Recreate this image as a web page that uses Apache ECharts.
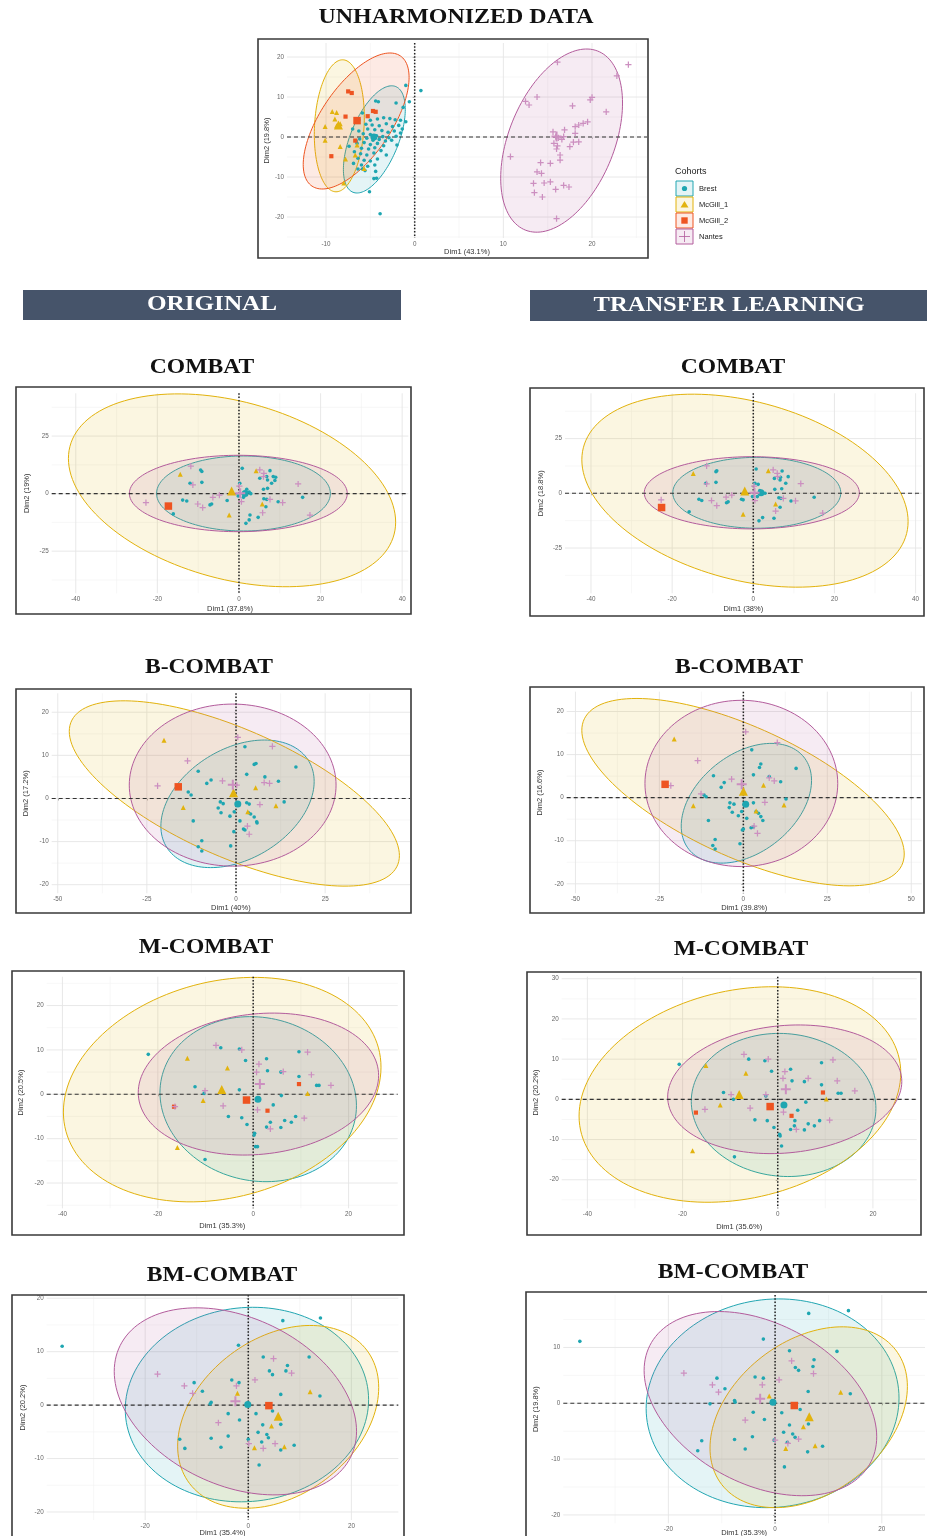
<!DOCTYPE html>
<html><head><meta charset="utf-8">
<script src="https://cdn.jsdelivr.net/npm/echarts@6/dist/echarts.min.js"></script>
<style>html,body{margin:0;padding:0;background:#fff}#c{width:927px;height:1536px}</style>
</head><body><div id="c"></div>
<script>
// ---------------- DATA ----------------
const COHORTS = ['Brest', 'McGill_1', 'McGill_2', 'Nantes'];
const PANEL_TITLES = ['COMBAT', 'B-COMBAT', 'M-COMBAT', 'BM-COMBAT'];
const AXIS_NAMES_X = ['Dim1 (43.1%)', 'Dim1 (37.8%)', 'Dim1 (38%)', 'Dim1 (40%)', 'Dim1 (39.8%)', 'Dim1 (35.3%)', 'Dim1 (35.6%)', 'Dim1 (35.4%)', 'Dim1 (35.3%)'];
const AXIS_NAMES_Y = ['Dim2 (19.8%)', 'Dim2 (19%)', 'Dim2 (18.8%)', 'Dim2 (17.2%)', 'Dim2 (16.6%)', 'Dim2 (20.5%)', 'Dim2 (20.2%)', 'Dim2 (20.2%)', 'Dim2 (19.8%)'];

// Panel 0: unharmonized
const p0Brest = [[-1.0,12.9],[0.7,11.6],[-4.4,9.0],[-4.1,8.8],[-2.1,8.5],[-0.6,8.8],[-1.3,7.4],[-5.9,6.0],[-6.3,4.3],[-5.0,4.2],[-4.2,4.5],[-3.5,4.8],[-2.8,4.6],[-2.2,4.3],[-1.6,4.2],[-1.0,3.8],[-5.5,3.2],[-4.8,3.0],[-4.0,2.8],[-3.2,3.3],[-2.5,2.6],[-1.8,2.9],[-5.3,2.0],[-4.5,1.8],[-3.7,1.6],[-3.0,1.2],[-2.3,1.5],[-1.6,1.0],[-5.8,0.8],[-5.0,0.6],[-4.3,0.3],[-3.6,0.1],[-2.9,-0.2],[-2.1,0.2],[-6.2,-0.5],[-5.4,-0.3],[-4.7,-0.8],[-4.0,-0.6],[-3.3,-1.0],[-2.6,-0.8],[-6.5,-1.6],[-5.7,-1.4],[-5.0,-1.9],[-4.2,-1.6],[-3.5,-2.2],[-6.0,-2.8],[-5.2,-3.0],[-4.5,-2.7],[-3.8,-3.4],[-6.8,-3.7],[-6.1,-4.2],[-5.4,-4.5],[-4.6,-4.0],[-6.4,-5.3],[-5.7,-5.8],[-5.0,-6.0],[-4.2,-5.5],[-6.9,-6.6],[-6.0,-7.0],[-5.3,-7.3],[-4.5,-7.0],[-6.4,-8.0],[-5.6,-8.4],[-4.4,-8.6],[-4.6,-10.4],[-4.3,-10.3],[-5.1,-13.7],[-3.9,-19.2],[-6.6,-1.0],[-7.0,2.0],[-5.9,-8.0],[-3.2,-4.5],[-2.0,-2.0],[-1.4,2.0],[-6.3,1.5],[-7.4,-2.3]];
const p0McGill1 = [[-9.3,6.4],[-8.8,6.1],[-10.1,2.6],[-8.8,2.8],[-8.4,3.3],[-10.1,-0.8],[-8.4,-2.4],[-6.5,-2.0],[-6.7,-4.5],[-7.8,-5.5],[-5.7,-7.9],[-8.0,-11.5],[-9.0,4.5]];
const p0McGill2 = [[-7.5,11.4],[-7.1,11.0],[-4.7,6.5],[-4.4,6.3],[-5.3,5.2],[-7.8,5.1],[-6.7,-0.9],[-9.4,-4.8]];
const p0Nantes = [[24.1,18.1],[16.1,18.7],[22.8,15.3],[12.5,8.9],[12.9,8.0],[13.8,10.0],[20.0,9.9],[19.8,9.3],[17.8,7.8],[21.6,6.3],[19.5,3.8],[19.0,3.4],[18.5,3.0],[18.1,2.6],[16.9,1.8],[15.6,1.3],[18.1,0.9],[15.9,0.1],[16.2,-0.2],[16.6,-0.6],[16.8,0.1],[17.9,-1.3],[18.5,-1.2],[15.7,-1.6],[16.1,-2.2],[17.5,-2.4],[16.0,-3.0],[16.4,-4.5],[16.4,-5.8],[10.8,-4.9],[14.2,-6.4],[15.3,-6.6],[13.8,-8.7],[14.3,-9.1],[13.4,-11.6],[14.6,-11.5],[15.3,-11.2],[16.8,-12.1],[17.4,-12.5],[15.9,-13.1],[13.5,-13.9],[14.4,-15.0],[16.0,-20.4]];
const p0Centroids = [[-4.6,0.0],[-8.6,3.0],[-6.5,4.1],[16.0,0.1]];
// ellipses: [centerX, centerY, halfWidthX, halfHeightY, correlation, cohortIndex]
const p0Ellipses = [[-4.55,-0.6,3.49,13.4,0.56,0],[-8.5,2.8,2.82,16.5,0.13,1],[-6.6,4.0,5.97,17.0,0.64,2],[16.57,-0.9,6.87,22.9,0.41,3]];
const p0XTicks = [-10,0,10,20], p0YTicks = [-20,-10,0,10,20];
const p0XMinor = [-5,5,15,25], p0YMinor = [-25,-15,-5,5,15];

// Panel 1: Original COMBAT
const p1Brest = [[-9.1,9.6],[-9.4,10.3],[-12.0,4.5],[-9.1,4.9],[-13.8,-2.8],[-12.8,-3.2],[-6.7,-4.5],[-7.1,-4.9],[-2.9,-3.0],[-16.1,-8.8],[0.8,11.0],[0.2,4.5],[1.9,1.9],[2.5,0.7],[2.9,0.0],[5.1,6.7],[6.8,7.4],[7.6,10.0],[8.4,7.4],[9.0,7.1],[7.0,5.9],[6.0,1.9],[7.0,2.3],[8.0,4.5],[6.1,-2.2],[6.8,-2.5],[6.6,-5.7],[9.6,-3.5],[15.6,-1.6],[2.7,-9.3],[1.7,-12.9],[2.5,-11.4],[4.7,-10.3],[1.1,-1.6],[-0.2,-1.0],[8.8,5.7]];
const p1McGill1 = [[-14.4,8.4],[4.2,10.0],[-2.4,-9.3],[5.7,-4.5]];
const p1McGill2 = [];
const p1Nantes = [[-22.8,-3.9],[-11.8,12.0],[-11.3,3.8],[-10.1,-4.5],[-8.9,-6.1],[-6.4,-1.6],[-4.8,-0.6],[5.1,10.3],[6.1,8.8],[6.0,7.4],[5.8,-8.3],[7.6,-2.5],[10.7,-3.9],[14.5,4.2],[17.4,-9.3],[0.6,-3.5],[0.1,3.3]];
const p1Centroids = [[1.5,0.1],[-1.8,1.2],[-17.3,-5.4],[0.3,0.2]];
const p1Ellipses = [[1.1,0.07,21.3,16.3,0,0],[-1.7,1.45,40.1,41.9,-0.33,1],[-0.16,0.07,26.7,16.6,0,3]];
const p1XTicks = [-40,-20,0,20,40], p1YTicks = [-25,0,25];
const p1XMinor = [-30,-10,10,30], p1YMinor = [-37.5,-12.5,12.5,37.5];

// Panel 2: Transfer learning COMBAT
const p2Brest = [[-9.2,9.9],[-9.0,10.3],[-11.7,4.6],[-9.2,5.0],[-13.4,-2.7],[-12.7,-3.3],[-6.6,-4.3],[-6.2,-3.9],[-2.9,-2.7],[-15.8,-8.4],[0.7,11.1],[0.4,4.6],[1.6,1.2],[2.9,0.0],[5.2,6.8],[6.7,7.3],[7.1,10.2],[8.6,7.6],[6.6,6.1],[5.3,1.8],[7.0,2.1],[6.3,-2.0],[6.8,-2.3],[6.6,-6.4],[9.3,-3.5],[15.0,-1.8],[2.3,-11.1],[1.4,-12.6],[5.1,-11.4],[1.0,-1.5],[-0.2,-1.5],[-2.5,-3.0],[8.0,4.6],[1.2,4.1]];
const p2McGill1 = [[-14.8,9.1],[3.7,10.3],[-2.5,-9.6],[5.5,-4.9]];
const p2McGill2 = [];
const p2Nantes = [[-22.7,-3.0],[-11.5,12.5],[-11.5,4.3],[-10.3,-3.3],[-9.0,-5.6],[-6.7,-1.8],[-5.3,-0.8],[4.9,10.7],[5.9,9.1],[6.0,7.6],[5.5,-8.1],[7.4,-2.3],[10.4,-3.5],[11.7,4.4],[17.1,-9.1],[0.4,-3.3],[0.2,3.3]];
const p2Centroids = [[1.9,0.3],[-2.1,1.1],[-22.6,-6.5],[0.3,0.2]];
const p2Ellipses = [[0.86,0.23,20.7,16.2,0,0],[-2.05,1.2,40.2,44.1,-0.32,1],[-0.37,0.23,26.5,16.5,0,3]];
const p2XTicks = [-40,-20,0,20,40], p2YTicks = [-25,0,25];
const p2XMinor = [-30,-10,10,30], p2YMinor = [-37.5,-12.5,12.5,37.5];

// Panel 3: Original B-COMBAT
const p3Brest = [[-10.6,6.3],[-7.0,4.3],[-8.2,3.5],[-13.4,1.5],[-12.6,0.8],[-4.4,-0.8],[-3.6,-1.2],[-5.0,-2.2],[-4.2,-3.3],[-12.0,-5.2],[2.5,12.0],[5.1,7.9],[5.6,8.1],[3.0,5.6],[8.1,5.0],[11.9,4.0],[16.8,7.3],[13.5,-0.8],[3.0,-1.0],[3.7,-1.3],[3.5,-3.3],[4.1,-3.6],[5.1,-4.3],[5.8,-5.4],[5.9,-5.7],[1.1,-5.2],[-1.7,-4.1],[2.1,-7.1],[2.5,-7.3],[-0.6,-7.7],[-9.6,-9.8],[-10.6,-11.2],[-9.6,-12.2],[-1.5,-11.0],[-0.5,-3.1]];
const p3McGill1 = [[-20.2,13.5],[5.5,2.5],[-14.8,-2.1],[11.2,-1.7],[3.3,-3.1]];
const p3McGill2 = [];
const p3Nantes = [[-22.0,2.9],[-13.6,8.7],[-3.8,4.1],[0.2,3.1],[0.5,14.2],[10.2,12.1],[7.9,3.7],[9.4,3.5],[6.7,-1.4],[3.2,-6.4],[3.7,-8.3]];
const p3Centroids = [[0.5,-1.3],[-0.7,1.3],[-16.2,2.7],[-0.9,3.2]];
const p3Ellipses = [[0.42,-1.24,21.5,14.8,0.35,0],[-0.47,1.16,46.3,21.5,-0.67,1],[-0.94,3.1,29.0,18.8,0,3]];
const p3XTicks = [-50,-25,0,25], p3YTicks = [-20,-10,0,10,20];
const p3XMinor = [-37.5,-12.5,12.5,37.5], p3YMinor = [-15,-5,5,15];

// Panel 4: Transfer learning B-COMBAT
const p4Brest = [[-8.9,5.1],[-5.7,3.5],[-6.6,2.4],[-11.7,0.6],[-11.1,0.2],[-4.0,-1.2],[-2.8,-1.5],[-4.2,-2.3],[-3.3,-3.4],[-10.4,-5.3],[2.5,11.1],[4.8,7.0],[5.2,7.8],[3.0,5.3],[7.7,4.9],[11.1,3.7],[15.7,6.8],[12.7,-0.3],[3.0,-1.2],[3.8,-3.2],[4.5,-3.6],[5.2,-4.4],[5.8,-5.3],[1.0,-4.8],[-1.5,-4.2],[2.3,-7.0],[3.0,-6.8],[-0.3,-7.5],[-8.4,-9.7],[-9.1,-11.1],[-8.4,-11.9],[-1.0,-10.7],[-0.5,-3.2],[0.0,-7.3]];
const p4McGill1 = [[-20.6,13.6],[6.0,2.9],[-14.9,-1.9],[12.1,-1.7],[3.8,-3.1]];
const p4McGill2 = [];
const p4Nantes = [[-21.6,2.8],[-13.6,8.6],[-3.5,4.3],[0.7,15.3],[10.1,12.8],[7.7,4.6],[9.2,3.9],[6.4,-1.1],[3.2,-6.6],[4.2,-8.3],[-12.6,0.9]];
const p4Centroids = [[0.7,-1.5],[0.0,1.5],[-23.3,3.1],[-0.5,3.1]];
const p4Ellipses = [[0.9,-1.3,19.4,13.9,0.38,0],[-0.1,1.28,48.0,21.75,-0.66,1],[-0.6,3.3,28.7,19.3,0,3]];
const p4XTicks = [-50,-25,0,25,50], p4YTicks = [-20,-10,0,10,20];
const p4XMinor = [-37.5,-12.5,12.5,37.5], p4YMinor = [-15,-5,5,15];

// Panel 5: Original M-COMBAT
const p5Brest = [[-22.0,9.0],[-6.8,10.5],[-2.9,10.2],[-1.6,7.6],[2.8,8.0],[3.0,5.3],[5.8,5.0],[9.6,9.6],[9.6,4.0],[13.3,2.0],[13.8,2.0],[-12.2,1.7],[-10.3,0.2],[-2.9,1.0],[5.9,-0.3],[4.2,-2.4],[-5.2,-5.0],[-2.4,-5.3],[-1.3,-6.8],[3.6,-6.3],[2.8,-7.4],[5.8,-7.5],[6.6,-5.9],[8.0,-6.3],[8.9,-5.0],[0.3,-8.8],[0.2,-9.2],[0.5,-11.8],[0.9,-11.8],[-10.1,-14.7]];
const p5McGill1 = [[-13.8,8.1],[-5.4,5.9],[-10.5,-1.4],[-15.9,-12.0],[11.4,0.2]];
const p5McGill2 = [[-16.6,-2.8],[9.6,2.3],[3.0,-3.7]];
const p5Nantes = [[-7.8,11.0],[-2.4,10.0],[-10.1,0.8],[-6.3,-2.6],[-16.4,-2.8],[1.2,6.8],[0.7,5.0],[6.3,5.1],[11.4,9.5],[12.2,4.4],[16.3,2.0],[0.9,-3.5],[3.6,-7.8],[10.7,-5.4]];
const p5Centroids = [[1.0,-1.1],[-6.6,1.1],[-1.4,-1.3],[1.4,2.3]];
const p5Ellipses = [[1.05,-1.1,20.6,18.6,-0.08,0],[-6.5,1.05,33.3,25.3,0.2,1],[1.1,2.3,25.2,16.0,0.12,3]];
const p5XTicks = [-40,-20,0,20], p5YTicks = [-20,-10,0,10,20];
const p5XMinor = [-30,-10,10], p5YMinor = [-25,-15,-5,5,15,25];

// Panel 6: Transfer learning M-COMBAT
const p6Brest = [[-20.7,8.7],[-6.1,10.0],[-2.7,9.6],[-1.3,7.0],[2.7,7.5],[3.0,4.6],[5.6,4.4],[9.2,9.1],[9.2,3.6],[12.7,1.5],[13.3,1.5],[-11.4,1.7],[-9.3,0.0],[-2.5,0.8],[5.9,-0.7],[4.2,-2.7],[-4.8,-5.1],[-2.2,-5.3],[-0.8,-7.0],[2.7,-7.5],[3.5,-6.6],[5.6,-7.6],[6.4,-6.1],[7.7,-6.6],[8.8,-5.3],[0.4,-8.7],[0.5,-9.1],[0.8,-11.6],[-9.1,-14.3],[3.6,-5.3]];
const p6McGill1 = [[-15.1,8.4],[-6.7,6.5],[-12.1,-1.4],[-17.9,-12.8],[10.2,0.1]];
const p6McGill2 = [[-17.2,-3.3],[9.5,1.7],[2.9,-4.1]];
const p6Nantes = [[-7.1,11.2],[-2.0,10.0],[-9.8,1.2],[-5.8,-2.2],[-15.3,-2.5],[1.5,6.9],[1.1,5.2],[6.4,5.2],[11.6,9.8],[12.5,4.6],[16.2,2.1],[1.2,-3.2],[3.9,-7.5],[10.9,-5.2],[-2.5,1.2]];
const p6Centroids = [[1.3,-1.4],[-8.1,1.2],[-1.6,-1.8],[1.7,2.5]];
const p6Ellipses = [[1.23,-1.4,19.4,17.8,-0.05,0],[-7.95,1.2,33.8,26.8,0.2,1],[1.47,2.5,24.6,16.0,0.12,3]];
const p6XTicks = [-40,-20,0,20], p6YTicks = [-20,-10,0,10,20,30];
const p6XMinor = [-30,-10,10], p6YMinor = [-25,-15,-5,5,15,25];

// Panel 7: Original BM-COMBAT
const p7Brest = [[-36.1,11.0],[6.7,15.8],[14.0,16.3],[-1.9,11.2],[2.9,9.0],[11.8,9.0],[7.6,7.4],[4.1,6.4],[4.7,5.7],[7.3,6.4],[6.3,2.0],[13.9,1.7],[-10.5,4.2],[-8.9,2.6],[-3.2,4.7],[-1.8,4.2],[-7.2,0.5],[-7.4,0.2],[-3.9,-1.6],[-1.7,-2.8],[1.5,-1.6],[4.7,-1.1],[2.8,-3.7],[6.3,-3.6],[1.9,-5.1],[3.6,-5.5],[3.9,-6.1],[2.6,-6.9],[6.3,-8.4],[8.9,-7.5],[-3.9,-5.8],[-7.2,-6.2],[-5.3,-7.9],[-13.3,-6.4],[-12.3,-8.1],[2.1,-11.2],[0.0,-6.4]];
const p7McGill1 = [[-2.1,2.2],[12.0,2.5],[4.5,-3.9],[1.2,-8.0],[7.0,-7.8]];
const p7McGill2 = [];
const p7Nantes = [[-17.6,5.8],[-12.4,3.6],[-10.8,2.2],[-2.3,3.6],[1.3,4.7],[4.9,8.7],[8.4,6.0],[-5.8,-3.3],[0.1,-7.2],[2.9,-8.1],[5.2,-7.2]];
const p7Centroids = [[-0.1,0.1],[5.8,-2.1],[4.0,-0.1],[-2.5,0.7]];
const p7Ellipses = [[-0.26,0.1,23.6,18.2,0.05,0],[5.8,-2.2,19.5,17.1,0.32,1],[-2.5,0.7,23.5,17.5,-0.32,3]];
const p7XTicks = [-20,0,20], p7YTicks = [-20,-10,0,10,20];
const p7XMinor = [-30,-10,10], p7YMinor = [-15,-5,5,15];

// Panel 8: Transfer learning BM-COMBAT
const p8Brest = [[-36.6,11.1],[6.3,16.1],[13.75,16.6],[-2.2,11.5],[2.7,9.4],[11.6,9.3],[7.3,7.8],[3.8,6.4],[4.4,5.9],[7.1,6.6],[6.2,2.1],[14.1,1.7],[-10.9,4.5],[-9.4,2.6],[-3.75,4.7],[-2.2,4.5],[-7.6,0.5],[-7.5,0.2],[-12.2,-0.1],[-4.1,-1.6],[-2.0,-2.9],[1.25,-1.7],[4.7,-1.1],[2.7,-3.9],[6.25,-3.7],[1.6,-5.2],[3.3,-5.5],[3.75,-6.1],[2.3,-7.0],[6.1,-8.7],[8.9,-7.7],[-4.25,-6.0],[-7.6,-6.5],[-5.6,-8.2],[-13.75,-6.7],[-14.5,-8.5],[1.75,-11.4],[-0.2,-6.6]];
const p8McGill1 = [[-1.1,1.3],[12.3,2.0],[5.3,-4.2],[2.0,-8.1],[7.5,-7.6]];
const p8McGill2 = [];
const p8Nantes = [[-17.1,5.4],[-11.75,3.3],[-10.6,2.0],[-2.4,3.3],[0.75,4.2],[3.1,7.6],[7.2,5.3],[-5.6,-3.0],[0.0,-6.6],[2.4,-7.2],[4.4,-6.4]];
const p8Centroids = [[-0.4,0.2],[6.4,-2.4],[3.6,-0.4],[-2.8,0.8]];
const p8Ellipses = [[-0.47,0,23.7,18.7,0.05,0],[6.3,-2.5,18.5,16.2,0.34,1],[-2.75,-0.06,21.8,16.5,-0.36,3]];
const p8XTicks = [-20,0,20], p8YTicks = [-20,-10,0,10];
const p8XMinor = [-30,-10,10], p8YMinor = [-15,-5,5,15];

// ---------------- LAYOUT / STYLE ----------------
const POINT_COLORS = ['#1EA6B1', '#E2B30E', '#EE5421', '#CC8FC0'];
const LINE_COLORS = ['#22A6B2', '#E2B20C', '#EE5420', '#B35C9C'];
const SYMBOLS = ['circle', 'triangle', 'rect', 'path://M4,0H6V4H10V6H6V10H4V6H0V4H4Z'];
const PT_SIZE = [3.6, 5, 4.2, 6.2];
const CENT_SIZE = [7, 9, 7.5, 10];

const LAYOUT = [
  {frame:[258,39,390,219], grid:[287,43,360,195], xr:[-14.4,26.2], yr:[-25.25,23.5], xGap:10, yGap:16},
  {frame:[16,387,395,227], grid:[51.7,393.3,356.6,200], xr:[-45.9,41.5], yr:[-43.3,43.6], xGap:11.7, yGap:20.4},
  {frame:[530,388,394,228], grid:[565,393.3,356.7,200], xr:[-46.4,41.5], yr:[-45.7,45.7], xGap:12, yGap:20},
  {frame:[16,689,395,224], grid:[51.7,693.3,358.3,200], xr:[-51.7,48.8], yr:[-22.0,24.4], xGap:10.4, yGap:21.7},
  {frame:[530,687,394,226], grid:[566.7,691.7,355,201.6], xr:[-52.6,53.1], yr:[-22.2,24.6], xGap:10.4, yGap:22.7},
  {frame:[12,971,392,264], grid:[46.7,976.7,351,231.6], xr:[-43.3,30.3], yr:[-25.7,26.5], xGap:13.7, yGap:21.7},
  {frame:[527,972,394,263], grid:[561.7,976.7,355,231.6], xr:[-45.4,29.2], yr:[-27.1,30.5], xGap:14.4, yGap:21.7},
  {frame:[12,1295,392,260], grid:[46.7,1295,351.6,225], xr:[-39.1,29.1], yr:[-21.5,20.6], xGap:9.3, yGap:19.4},
  {frame:[526,1292,420,260], grid:[563.3,1295,361.7,228.3], xr:[-39.7,28.1], yr:[-21.5,19.4], xGap:6, yGap:23.3}
];

const PANELS = [
  {pts:[p0Brest,p0McGill1,p0McGill2,p0Nantes], cent:p0Centroids, ell:p0Ellipses, xt:p0XTicks, yt:p0YTicks, xm:p0XMinor, ym:p0YMinor},
  {pts:[p1Brest,p1McGill1,p1McGill2,p1Nantes], cent:p1Centroids, ell:p1Ellipses, xt:p1XTicks, yt:p1YTicks, xm:p1XMinor, ym:p1YMinor},
  {pts:[p2Brest,p2McGill1,p2McGill2,p2Nantes], cent:p2Centroids, ell:p2Ellipses, xt:p2XTicks, yt:p2YTicks, xm:p2XMinor, ym:p2YMinor},
  {pts:[p3Brest,p3McGill1,p3McGill2,p3Nantes], cent:p3Centroids, ell:p3Ellipses, xt:p3XTicks, yt:p3YTicks, xm:p3XMinor, ym:p3YMinor},
  {pts:[p4Brest,p4McGill1,p4McGill2,p4Nantes], cent:p4Centroids, ell:p4Ellipses, xt:p4XTicks, yt:p4YTicks, xm:p4XMinor, ym:p4YMinor},
  {pts:[p5Brest,p5McGill1,p5McGill2,p5Nantes], cent:p5Centroids, ell:p5Ellipses, xt:p5XTicks, yt:p5YTicks, xm:p5XMinor, ym:p5YMinor},
  {pts:[p6Brest,p6McGill1,p6McGill2,p6Nantes], cent:p6Centroids, ell:p6Ellipses, xt:p6XTicks, yt:p6YTicks, xm:p6XMinor, ym:p6YMinor},
  {pts:[p7Brest,p7McGill1,p7McGill2,p7Nantes], cent:p7Centroids, ell:p7Ellipses, xt:p7XTicks, yt:p7YTicks, xm:p7XMinor, ym:p7YMinor},
  {pts:[p8Brest,p8McGill1,p8McGill2,p8Nantes], cent:p8Centroids, ell:p8Ellipses, xt:p8XTicks, yt:p8YTicks, xm:p8XMinor, ym:p8YMinor}
];

function rgba(hex, a) {
  const n = parseInt(hex.slice(1), 16);
  return 'rgba(' + ((n >> 16) & 255) + ',' + ((n >> 8) & 255) + ',' + (n & 255) + ',' + a + ')';
}

function gridItem(params, api) {
  const cs = params.coordSys;
  const v = api.value(0), dir = api.value(1), major = api.value(2);
  let shape;
  if (dir === 0) { const p = api.coord([v, 0]); shape = {x1:p[0], y1:cs.y, x2:p[0], y2:cs.y + cs.height}; }
  else { const p = api.coord([0, v]); shape = {x1:cs.x, y1:p[1], x2:cs.x + cs.width, y2:p[1]}; }
  return {type:'line', shape:shape, style:{stroke: major ? '#e5e5e5' : '#f1f1f1', lineWidth: major ? 0.9 : 0.6}};
}

function ellipseItem(params, api) {
  const cx = api.value(0), cy = api.value(1), hx = api.value(2), hy = api.value(3), r = api.value(4), k = api.value(5);
  const s = Math.sqrt(1 - r * r);
  const pts = [];
  const N = 140;
  for (let i = 0; i < N; i++) {
    const t = i / N * Math.PI * 2;
    const c = Math.cos(t), sn = Math.sin(t);
    pts.push(api.coord([cx + hx * c, cy + hy * (r * c + s * sn)]));
  }
  return {type:'polygon', shape:{points:pts}, style:{fill: rgba(LINE_COLORS[k], 0.12), stroke: LINE_COLORS[k], lineWidth: 1}};
}

function originItem(params, api) {
  const cs = params.coordSys;
  const o = api.coord([0, 0]);
  return {type:'group', children:[
    {type:'line', shape:{x1:cs.x, y1:o[1], x2:cs.x + cs.width, y2:o[1]}, style:{stroke:'#333', lineWidth:1.1, lineDash:[4,3]}},
    {type:'line', shape:{x1:o[0], y1:cs.y, x2:o[0], y2:cs.y + cs.height}, style:{stroke:'#222', lineWidth:1.5, lineDash:[1.5,1.8]}}
  ]};
}

const grids = [], xAxes = [], yAxes = [], series = [];
const AXFONT = 'Liberation Sans';
PANELS.forEach((p, i) => {
  const L = LAYOUT[i];
  grids.push({left:L.grid[0], top:L.grid[1], width:L.grid[2], height:L.grid[3], containLabel:false, outerBoundsMode:'none'});
  xAxes.push({gridIndex:i, type:'value', min:L.xr[0], max:L.xr[1], name:AXIS_NAMES_X[i], nameLocation:'middle', nameGap:L.xGap, nameMoveOverlap:false,
    nameTextStyle:{fontSize:7.5, color:'#333', fontFamily:AXFONT},
    axisLine:{show:false}, splitLine:{show:false},
    axisTick:{show:true, customValues:p.xt, length:2, lineStyle:{color:'#666', width:0.7}},
    axisLabel:{show:true, customValues:p.xt, fontSize:6.3, color:'#666', margin:3, fontFamily:AXFONT}});
  yAxes.push({gridIndex:i, type:'value', min:L.yr[0], max:L.yr[1], name:AXIS_NAMES_Y[i], nameLocation:'middle', nameGap:L.yGap, nameMoveOverlap:false,
    nameTextStyle:{fontSize:7.5, color:'#333', fontFamily:AXFONT},
    axisLine:{show:false}, splitLine:{show:false},
    axisTick:{show:true, customValues:p.yt, length:2, lineStyle:{color:'#666', width:0.7}},
    axisLabel:{show:true, customValues:p.yt, fontSize:6.3, color:'#666', margin:3, fontFamily:AXFONT}});
  const gd = [];
  p.xm.forEach(v => gd.push([v, 0, 0])); p.ym.forEach(v => gd.push([v, 1, 0]));
  p.xt.forEach(v => gd.push([v, 0, 1])); p.yt.forEach(v => gd.push([v, 1, 1]));
  series.push({type:'custom', xAxisIndex:i, yAxisIndex:i, z:1, silent:true, data:gd, renderItem:gridItem});
  series.push({type:'custom', xAxisIndex:i, yAxisIndex:i, z:2, silent:true, data:p.ell, renderItem:ellipseItem});
  series.push({type:'custom', xAxisIndex:i, yAxisIndex:i, z:3, silent:true, data:[[0,0]], renderItem:originItem});
  p.pts.forEach((arr, k) => {
    series.push({type:'scatter', name:COHORTS[k], xAxisIndex:i, yAxisIndex:i, z:4, silent:true, data:arr,
      symbol:SYMBOLS[k], symbolSize:PT_SIZE[k], itemStyle:{color:POINT_COLORS[k], opacity:1}});
  });
  p.cent.forEach((c, k) => {
    series.push({type:'scatter', name:COHORTS[k] + ' mean', xAxisIndex:i, yAxisIndex:i, z:5, silent:true, data:[c],
      symbol:SYMBOLS[k], symbolSize:CENT_SIZE[k], itemStyle:{color:POINT_COLORS[k], opacity:1}});
  });
});

// ---------------- GRAPHICS (frames, titles, legend) ----------------
const TITLE_FONT = '"Liberation Serif", "DejaVu Serif", serif';
const graphics = [];
LAYOUT.forEach(L => {
  graphics.push({type:'rect', z:50, silent:true, shape:{x:L.frame[0], y:L.frame[1], width:L.frame[2], height:L.frame[3]},
    style:{fill:'none', stroke:'#3a3a3a', lineWidth:1.6}});
});
function title(text, x, y, size, sx, color, shadow) {
  graphics.push({type:'text', z:60, silent:true, x:x, y:y, scaleX:sx, scaleY:1,
    style:{text:text, x:0, y:0, textAlign:'center', textVerticalAlign:'middle',
    font:'bold ' + size + 'px ' + TITLE_FONT, fill:color, shadowColor:shadow, shadowBlur:2.5, shadowOffsetX:1.2, shadowOffsetY:1.5}});
}
title('UNHARMONIZED DATA', 456, 18, 21, 1.14, '#111', 'rgba(0,0,0,0.45)');
graphics.push({type:'rect', z:40, silent:true, shape:{x:23, y:290, width:378, height:30}, style:{fill:'#46546A'}});
graphics.push({type:'rect', z:40, silent:true, shape:{x:530, y:290, width:397, height:31}, style:{fill:'#46546A'}});
title('ORIGINAL', 212, 305, 21, 1.2, '#ffffff', 'rgba(0,0,0,0.75)');
title('TRANSFER LEARNING', 729, 305.5, 21, 1.17, '#ffffff', 'rgba(0,0,0,0.75)');
const TITLE_POS = [[202,368,733,368],[209,668,739,668],[206,948,741,950],[222,1276,733,1273]];
PANEL_TITLES.forEach((t, j) => {
  const P = TITLE_POS[j];
  title(t, P[0], P[1], 20, 1.18, '#111', 'rgba(0,0,0,0.45)');
  title(t, P[2], P[3], 20, 1.18, '#111', 'rgba(0,0,0,0.45)');
});
// legend
graphics.push({type:'text', z:60, silent:true, style:{text:'Cohorts', x:675, y:171.5, textAlign:'left', textVerticalAlign:'middle', font:'9px "Liberation Sans"', fill:'#222'}});
COHORTS.forEach((name, k) => {
  const y0 = 181 + 16 * k, cx = 684.5, cy = y0 + 7.5, col = LINE_COLORS[k];
  graphics.push({type:'rect', z:60, silent:true, shape:{x:676, y:y0, width:17, height:15}, style:{fill:rgba(col, 0.12), stroke:col, lineWidth:1}});
  if (k === 0) graphics.push({type:'circle', z:61, silent:true, shape:{cx:cx, cy:cy, r:2.6}, style:{fill:POINT_COLORS[0]}});
  if (k === 1) graphics.push({type:'polygon', z:61, silent:true, shape:{points:[[cx, cy - 3.6], [cx + 4, cy + 3], [cx - 4, cy + 3]]}, style:{fill:POINT_COLORS[1]}});
  if (k === 2) graphics.push({type:'rect', z:61, silent:true, shape:{x:cx - 3.2, y:cy - 3.2, width:6.4, height:6.4}, style:{fill:POINT_COLORS[2]}});
  if (k === 3) {
    graphics.push({type:'line', z:61, silent:true, shape:{x1:cx - 5.5, y1:cy, x2:cx + 5.5, y2:cy}, style:{stroke:LINE_COLORS[3], lineWidth:0.8}});
    graphics.push({type:'line', z:61, silent:true, shape:{x1:cx, y1:cy - 5.5, x2:cx, y2:cy + 5.5}, style:{stroke:LINE_COLORS[3], lineWidth:0.8}});
  }
  graphics.push({type:'text', z:60, silent:true, style:{text:name, x:699, y:cy, textAlign:'left', textVerticalAlign:'middle', font:'7.5px "Liberation Sans"', fill:'#222'}});
});

const chart = echarts.init(document.getElementById('c'), null, {renderer:'canvas'});
chart.setOption({
  animation:false,
  backgroundColor:'#ffffff',
  grid:grids, xAxis:xAxes, yAxis:yAxes, series:series,
  graphic:{elements:graphics}
});
</script></body></html>
